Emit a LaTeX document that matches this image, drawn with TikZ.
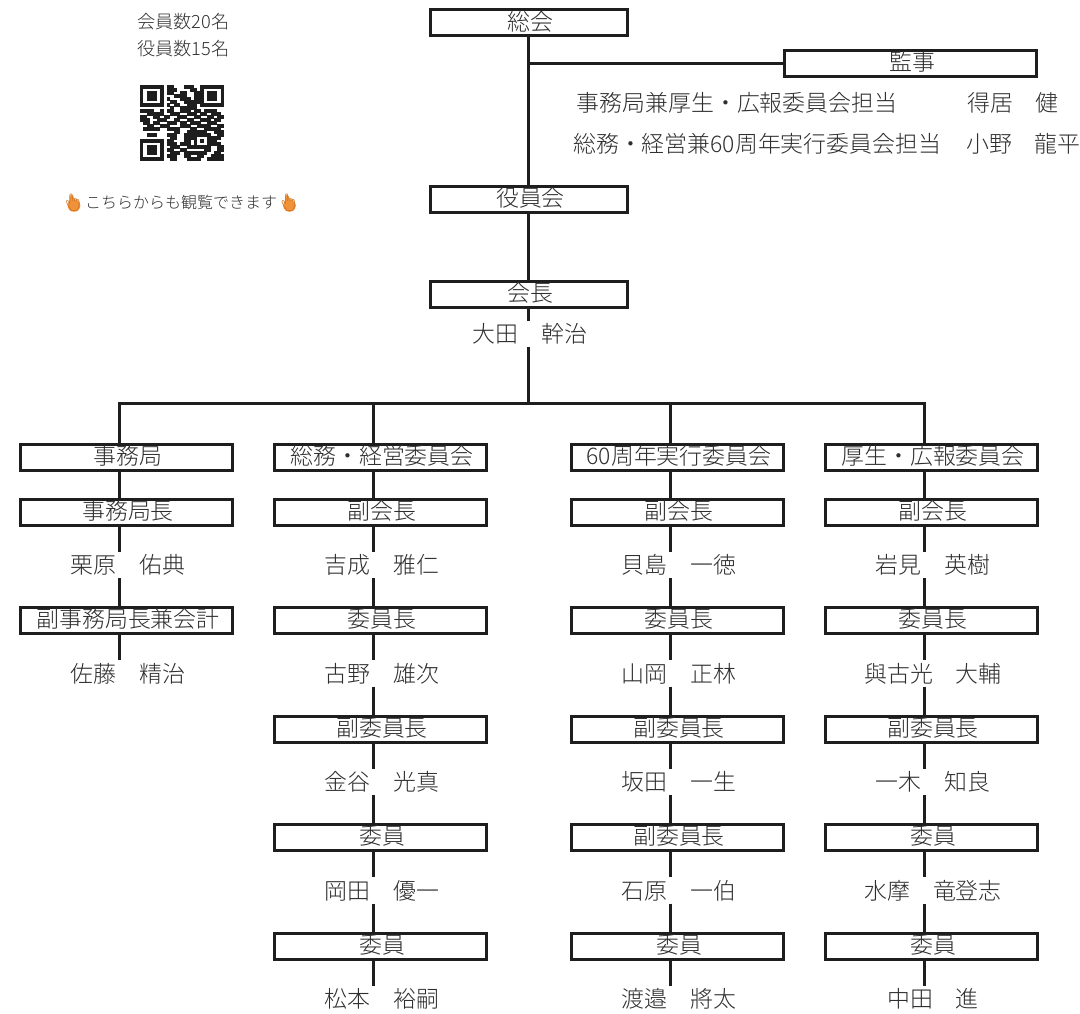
\documentclass[tikz,border=0pt]{standalone}
\usepackage{fontspec}
\setmainfont{Noto Sans CJK JP}[UprightFont=* Light]
\newfontfamily\emojifont{Noto Emoji}
\definecolor{ink}{HTML}{1E1E1E}
\definecolor{txt}{HTML}{2E2E2E}
\definecolor{hand}{HTML}{F0923A}
\definecolor{handline}{HTML}{C96F1E}
\newcount\qrx
\def\qrnext#1{\ifx#1;\else\if#11\fill[ink] ({140+\the\qrx*3.36},{85.5+\qry*3.0}) rectangle ++(3.46,3.1);\fi\advance\qrx by 1 \expandafter\qrnext\fi}
\tikzset{
  orgbox/.style={draw=ink,line width=3pt,fill=white,rectangle,inner sep=0pt,minimum height=26pt,
    text=txt,font=\fontsize{22.9}{26}\selectfont,text height=18.5pt,text depth=3.6pt,
    execute at begin node={\hspace{3pt}}},
  colbox/.style={orgbox,minimum width=211.5pt},
  topbox/.style={orgbox,minimum width=196.5pt},
  person/.style={fill=white,inner sep=0pt,text=txt,font=\fontsize{22.9}{26}\selectfont,minimum height=26pt,minimum width=70pt},
  plain/.style={inner sep=0pt,text=txt},
  memo/.style={plain,font=\fontsize{22.9}{26}\selectfont},
  small/.style={plain,font=\fontsize{18.2}{20}\selectfont},
  tiny/.style={plain,font=\fontsize{16}{18}\selectfont},
  link/.style={draw=ink,line width=3pt},
  emoji/.style={inner sep=0pt,text=handline,font=\fontsize{17}{20}\emojifont},
}
\begin{document}
\begin{tikzpicture}[x=1pt,y=-1pt]
\useasboundingbox (0,0) rectangle (1080,1014);
% coordinates of the vertical trunks
\coordinate (trunk) at (528.5,403);
\coordinate (busa) at (119,403);
\coordinate (busb) at (373.5,403);
\coordinate (busc) at (670.5,403);
\coordinate (busd) at (924.5,403);
% top part
\node[topbox] (soukai) at (529,23) {総会};
\node[orgbox,minimum width=252.5pt] (kanji) at (910.5,63.5) {監事};
\node[topbox] (yakuin) at (529,199.5) {役員会};
\node[topbox] (kaicho) at (529,294.5) {会長};
\node[person] (ota) at (530,334) {大田　幹治};
\coordinate (kj) at (528.5,63.5);
\node[memo,anchor=west] (ka) at (576.5,103) {事務局兼厚生・広報委員会担当};
\node[memo,anchor=west] (kb) at (967,103) {得居　健};
\node[memo,anchor=west] (kc) at (573,143.5) {総務・経営兼60周年実行委員会担当};
\node[memo,anchor=west] (kd) at (966,143.5) {小野　龍平};
% info
\node[small] (mem) at (183.5,21.5) {会員数20名};
\node[small] (off) at (183.5,48.5) {役員数15名};
\node[tiny] (see) at (181,202.5) {こちらからも観覧できます};
\coordinate (ca) at (73,203);
\coordinate (cb) at (288.5,203);
\foreach \c in {ca,cb}{
  \fill[hand] ([shift={(1,2.5)}]\c) circle (6.3);
  \fill[hand,rounded corners=1.5pt] ([shift={(-3.5,-8)}]\c) rectangle ([shift={(0.5,3)}]\c);
}
\node[emoji] (ha) at (ca) {👆};
\node[emoji] (hb) at (cb) {👆};
% QR
\foreach \qrrowtext [count=\qry from 0] in {
1111111011000111001111111,
1000001011100001101000001,
1011101011001100111011101,
1011101000111100111011101,
1011101010001110111011101,
1000001001100111111000001,
1111111010110011101111111,
0000000001001111100000000,
1111001011001110110111100,
0011111001110011101101110,
1100110110011100110011011,
1110011100110011001110110,
0110110011101101110011100,
0011001110001110011110011,
0111110011110001100111110,
0000000000110011111100111,
0011100011100111111110011,
0000000001100111100011110,
1111111011000110101011100,
1000001011101110100011110,
1011101001110011111110011,
1011101011001100000110011,
1011101001110111111100110,
1000001011100110011001111,
1111111001100011110011111}{
  \qrx=0 \expandafter\qrnext\qrrowtext;
}
% department columns
\node[colbox] (a0) at (126.5,457) {事務局};
\node[colbox] (a1) at (126.5,512) {事務局長};
\node[person] (a2) at (128,565) {栗原　佑典};
\node[colbox] (a3) at (126.5,620) {副事務局長兼会計};
\node[person] (a4) at (128,673.5) {佐藤　精治};

\node[colbox] (b0) at (380.5,457) {総務・経営委員会};
\node[colbox] (b1) at (380.5,512) {副会長};
\node[person] (b2) at (382,565) {吉成　雅仁};
\node[colbox] (b3) at (380.5,620) {委員長};
\node[person] (b4) at (382,673.5) {古野　雄次};
\node[colbox] (b5) at (380.5,729) {副委員長};
\node[person] (b6) at (382,782) {金谷　光真};
\node[colbox] (b7) at (380.5,837) {委員};
\node[person] (b8) at (382,890.5) {岡田　優一};
\node[colbox] (b9) at (380.5,946) {委員};
\node[person] (b10) at (382,999) {松本　裕嗣};

\node[colbox] (c0) at (677.5,457) {60周年実行委員会};
\node[colbox] (c1) at (677.5,512) {副会長};
\node[person] (c2) at (679,565) {貝島　一徳};
\node[colbox] (c3) at (677.5,620) {委員長};
\node[person] (c4) at (679,673.5) {山岡　正林};
\node[colbox] (c5) at (677.5,729) {副委員長};
\node[person] (c6) at (679,782) {坂田　一生};
\node[colbox] (c7) at (677.5,837) {副委員長};
\node[person] (c8) at (679,890.5) {石原　一伯};
\node[colbox] (c9) at (677.5,946) {委員};
\node[person] (c10) at (679,999) {渡邉　將太};

\node[colbox] (d0) at (931.5,457) {厚生・広報委員会};
\node[colbox] (d1) at (931.5,512) {副会長};
\node[person] (d2) at (933,565) {岩見　英樹};
\node[colbox] (d3) at (931.5,620) {委員長};
\node[person,minimum width=136pt] (d4) at (933,673.5) {與古光　大輔};
\node[colbox] (d5) at (931.5,729) {副委員長};
\node[person] (d6) at (933,782) {一木　知良};
\node[colbox] (d7) at (931.5,837) {委員};
\node[person,minimum width=136pt] (d8) at (933,890.5) {水摩　竜登志};
\node[colbox] (d9) at (931.5,946) {委員};
\node[person] (d10) at (933,999) {中田　進};
% connectors
\draw[link] (trunk |- soukai.south) -- (trunk |- yakuin.north);
\draw[link] (kj) -- (kanji.west);
\draw[link] (trunk |- yakuin.south) -- (trunk |- kaicho.north);
\draw[link] (trunk |- kaicho.south) -- (trunk |- ota.north);
\draw[link] (trunk |- ota.south) -- (trunk);
\draw[link] (busa |- a0.north) -- (busa) -- (busd) -- (busd |- d0.north);
\draw[link] (busb) -- (busb |- b0.north);
\draw[link] (busc) -- (busc |- c0.north);
\foreach \col/\bus/\last in {a/busa/4,b/busb/10,c/busc/10,d/busd/10}{
  \pgfmathtruncatemacro\stop{\last-1}
  \foreach \i in {0,...,\stop}{
    \pgfmathtruncatemacro\nxt{\i+1}
    \draw[link] (\bus |- \col\i.south) -- (\bus |- \col\nxt.north);
  }
}
\end{tikzpicture}
\end{document}
